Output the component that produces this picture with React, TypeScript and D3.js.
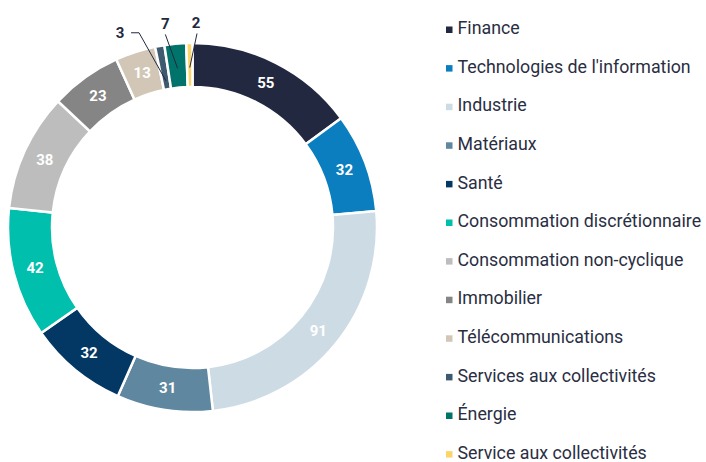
import { useEffect, useRef } from "react"
import * as d3 from "d3"

// secteurs, dans l'ordre horaire depuis midi
const sectors = [
    "Finance",
    "Technologies de l'information",
    "Industrie",
    "Matériaux",
    "Santé",
    "Consommation discrétionnaire",
    "Consommation non-cyclique",
    "Immobilier",
    "Télécommunications",
    "Services aux collectivités",
    "Énergie",
    "Service aux collectivités",
]
const counts = [55, 32, 91, 31, 32, 42, 38, 23, 13, 3, 7, 2]
const colors = [
    "#222840", "#0b7ec0", "#cddbe5", "#5f879f", "#033764", "#00bfad",
    "#bdbdbd", "#858585", "#d2c7b7", "#3e5a6e", "#00736a", "#fbd46a",
]

// petites tranches : étiquette à l'extérieur, décalage horizontal
const outsideNudge: Record<number, [number, number]> = { 9: [-36, 7], 10: [-8, 0], 11: [7, 0] }

const width = 706
const height = 462

export default function App() {
    const ref = useRef<SVGSVGElement>(null)

    useEffect(() => {
        const svg = d3.select(ref.current)
        svg.selectAll("*").remove()

        const cx = 192.5, cy = 227.5
        const outer = 184.5, inner = 140.5

        const data = sectors.map((name, i) => ({ name, value: counts[i], color: colors[i], i }))

        const pie = d3.pie<any>().value(d => d.value).sort(null)
        const arcs = pie(data)
        const arc = d3.arc<any>().innerRadius(inner).outerRadius(outer)

        const g = svg.append("g").attr("transform", `translate(${cx},${cy})`)

        g.selectAll("path")
            .data(arcs)
            .join("path")
                .attr("d", arc)
                .attr("fill", d => d.data.color)
                .attr("stroke", "#fff")
                .attr("stroke-width", 2.5)
                .attr("stroke-linejoin", "miter")

        // valeurs dans l'anneau
        const big = arcs.filter(d => !(d.data.i in outsideNudge))
        g.append("g")
                .attr("font-family", "Roboto, sans-serif")
                .attr("font-weight", 700)
                .attr("font-size", 15)
                .attr("fill", "#fff")
                .attr("text-anchor", "middle")
            .selectAll("text")
            .data(big)
            .join("text")
                .attr("transform", d => `translate(${arc.centroid(d)})`)
                .attr("dy", "0.35em")
                .text(d => d.data.value)

        // étiquettes extérieures avec lignes de rappel
        const small = arcs.filter(d => d.data.i in outsideNudge)
        const mid = (d: any) => (d.startAngle + d.endAngle) / 2
        const pt = (a: number, r: number) => [r * Math.sin(a), -r * Math.cos(a)]

        const lab = g.append("g")
        small.forEach(d => {
            const [nx, ny] = outsideNudge[d.data.i]
            const a = mid(d)
            const [ax, ay] = pt(a, 205)
            const lx = ax + nx, ly = ay + ny
            const [ex, ey] = pt(a, d.data.i === 9 ? 149 : 160)
            let path
            if (d.data.i === 9) {
                path = `M${lx + 11},${ly}H${lx + 19}L${ex},${ey}`
            } else {
                path = `M${lx + (d.data.i === 11 ? 1 : 0)},${ly + 11}L${ex},${ey}`
            }
            lab.append("path")
                .attr("d", path)
                .attr("fill", "none")
                .attr("stroke", "#222840")
                .attr("stroke-width", 1)
            lab.append("text")
                .attr("x", lx)
                .attr("y", ly)
                .attr("dy", "0.35em")
                .attr("text-anchor", "middle")
                .attr("font-family", "Roboto, sans-serif")
                .attr("font-weight", 700)
                .attr("font-size", 15)
                .attr("fill", "#222840")
                .text(d.data.value)
        })

        // légende
        const y = d3.scalePoint<string>()
            .domain(sectors)
            .range([28, 452.6])

        const legend = svg.append("g")
        legend.selectAll("rect")
            .data(data)
            .join("rect")
                .attr("x", 446)
                .attr("y", d => y(d.name)! - 1.5)
                .attr("width", 6.5)
                .attr("height", 6.5)
                .attr("fill", d => d.color)
        legend.selectAll("text")
            .data(data)
            .join("text")
                .attr("x", 457.5)
                .attr("y", d => y(d.name)!)
                .attr("dy", "0.35em")
                .attr("font-family", "Roboto, sans-serif")
                .attr("font-size", 17.8)
                .attr("fill", "#2a2e43")
                .text(d => d.name)
    }, [])

    return (
        <div>
            <style>{"body{margin:0}"}</style>
            <svg ref={ref} width={width} height={height} style={{ display: "block", background: "#fff" }} />
        </div>
    )
}
